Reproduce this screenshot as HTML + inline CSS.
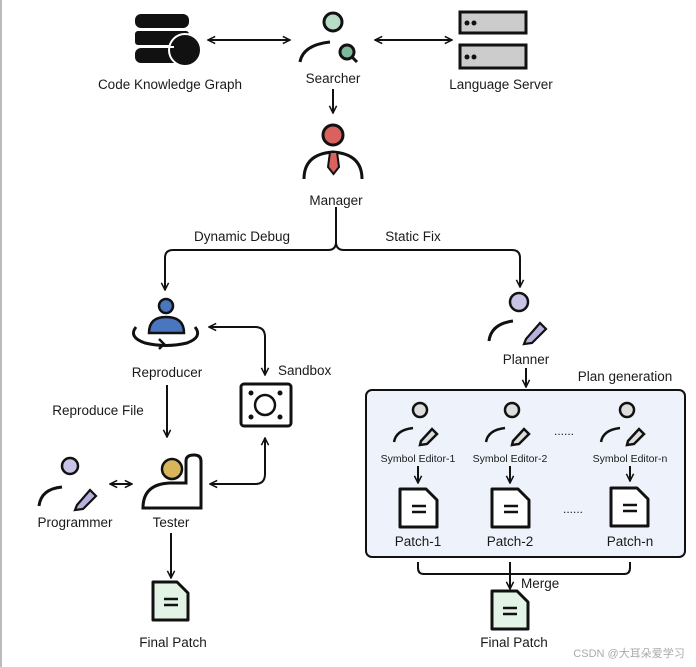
<!DOCTYPE html>
<html><head><meta charset="utf-8"><style>
html,body{margin:0;padding:0;background:#fff;}
svg{display:block;}
text{font-family:"Liberation Sans","Noto Sans CJK SC",sans-serif;fill:#1a1a1a;}
</style></head><body>
<svg width="696" height="667" viewBox="0 0 696 667" xmlns="http://www.w3.org/2000/svg">
<defs>
<marker id="a" viewBox="0 0 10 10" refX="9" refY="5" markerWidth="9" markerHeight="9" orient="auto-start-reverse" markerUnits="userSpaceOnUse">
<path d="M1,1 L9,5 L1,9" fill="none" stroke="#111" stroke-width="1.7"/></marker>
</defs>
<rect x="0" y="0" width="2" height="667" fill="#bbb"/>
<g stroke="#111" stroke-width="2" fill="none">
<line x1="208" y1="40" x2="290" y2="40" marker-start="url(#a)" marker-end="url(#a)"/>
<line x1="375" y1="40" x2="452" y2="40" marker-start="url(#a)" marker-end="url(#a)"/>
<line x1="333" y1="89" x2="333" y2="113" marker-end="url(#a)"/>
<path d="M336,207 V242 Q336,250 328,250 H173 Q165,250 165,258 V290" marker-end="url(#a)"/>
<path d="M336,242 Q336,250 344,250 H512 Q520,250 520,258 V287" marker-end="url(#a)"/>
<path d="M209,327 H255 Q265,327 265,337 V375" marker-start="url(#a)" marker-end="url(#a)"/>
<path d="M210,484 H255 Q265,484 265,474 V438" marker-start="url(#a)" marker-end="url(#a)"/>
<line x1="167" y1="385" x2="167" y2="437" marker-end="url(#a)"/>
<line x1="110" y1="484" x2="132" y2="484" marker-start="url(#a)" marker-end="url(#a)"/>
<line x1="171" y1="533" x2="171" y2="578" marker-end="url(#a)"/>
<line x1="526" y1="368" x2="526" y2="387" marker-end="url(#a)"/>
</g>
<!-- Database -->
<g fill="#111">
<rect x="135" y="14" width="54" height="14" rx="6"/>
<rect x="135" y="31" width="54" height="14" rx="3"/>
<rect x="135" y="48" width="54" height="15" rx="6"/>
<circle cx="185" cy="50" r="16" stroke="#fff" stroke-width="2"/>
</g>
<g fill="#fff"><rect x="140" y="29" width="38" height="2"/><rect x="140" y="46" width="34" height="2"/></g>
<!-- Searcher -->
<g stroke="#111" stroke-width="3" fill="none">
<circle cx="333" cy="22" r="9" fill="#b8dcc6"/>
<path d="M300,62 Q303,45 330,42"/>
<circle cx="347" cy="52" r="7" fill="#7db99a"/>
<line x1="352" y1="57" x2="357" y2="62"/>
</g>
<!-- Server -->
<g stroke="#111" stroke-width="3" fill="#ccc">
<rect x="460" y="12" width="66" height="21"/><rect x="460" y="45" width="66" height="23"/>
</g>
<g fill="#111"><circle cx="467" cy="23" r="2.5"/><circle cx="474" cy="23" r="2.5"/><circle cx="467" cy="57" r="2.5"/><circle cx="474" cy="57" r="2.5"/></g>
<!-- Manager -->
<g stroke="#111" stroke-width="3" fill="none">
<circle cx="333" cy="135" r="10" fill="#d9625e"/>
<path d="M304,179 Q304,154 333,152 Q362,154 362,179"/>
</g>
<path d="M330,152 L337,152 L339,167 L333.5,174 L328,167 Z" fill="#d9625e" stroke="#111" stroke-width="2"/>
<!-- Reproducer -->
<circle cx="166" cy="306" r="7" fill="#4a76c0" stroke="#111" stroke-width="2.5"/>
<path d="M149,333 Q149,317 166,317 Q184,317 184,333 Z" fill="#4a76c0" stroke="#111" stroke-width="2.5"/>
<path d="M136,327 Q128,337 145,343 Q166,348 187,343 Q203,337 195,327" fill="none" stroke="#111" stroke-width="3"/>
<path d="M159,339 L164,344 L159,349" fill="none" stroke="#111" stroke-width="2.5"/>
<!-- Sandbox -->
<rect x="241" y="384" width="50" height="42" rx="3" fill="#fff" stroke="#111" stroke-width="3"/>
<circle cx="265" cy="405" r="10" fill="none" stroke="#111" stroke-width="2.5"/>
<g fill="#111"><circle cx="251" cy="393" r="2.5"/><circle cx="280" cy="393" r="2.5"/><circle cx="251" cy="417" r="2.5"/><circle cx="280" cy="417" r="2.5"/></g>
<!-- Tester -->
<path d="M143,508 Q143,484 170,483 L186,483 L186,461 Q186,455 194,455 Q201,455 201,461 L201,508 Z" fill="#fff" stroke="#111" stroke-width="3"/>
<circle cx="172" cy="469" r="10" fill="#d8b45a" stroke="#111" stroke-width="2.5"/>
<!-- Programmer -->
<g stroke="#111" stroke-width="3">
<circle cx="70" cy="466" r="8" fill="#c9c3e6" stroke-width="2.5"/>
<path d="M39,506 Q41,489 62,487" fill="none"/>
<path d="M77,505 L90,490 L96,496 L83,509 L75,510 Z" fill="#b9b1dd" stroke-width="2.2"/>
</g>
<!-- Planner -->
<g stroke="#111" stroke-width="3">
<circle cx="519" cy="302" r="9" fill="#c9c3e6" stroke-width="2.5"/>
<path d="M489,341 Q491,324 513,321" fill="none"/>
<path d="M526,339 L540,323 L546,329 L532,343 L524,344 Z" fill="#b9b1dd" stroke-width="2.2"/>
</g>
<!-- plan box -->
<rect x="366" y="390" width="319" height="167" rx="6" fill="#eef3fb" stroke="#111" stroke-width="2"/>
<g stroke="#111" stroke-width="2.5">
<circle cx="420" cy="410" r="7" fill="#ddd"/><path d="M394,442 Q396,430 413,428" fill="none"/><path d="M421,441 L432,429 L437,434 L427,444 L420,445 Z" fill="#ddd"/>
<circle cx="512" cy="410" r="7" fill="#ddd"/><path d="M486,442 Q488,430 505,428" fill="none"/><path d="M513,441 L524,429 L529,434 L519,444 L512,445 Z" fill="#ddd"/>
<circle cx="627" cy="410" r="7" fill="#ddd"/><path d="M601,442 Q603,430 620,428" fill="none"/><path d="M628,441 L639,429 L644,434 L634,444 L627,445 Z" fill="#ddd"/>
</g>
<g stroke="#111" stroke-width="2" fill="none">
<line x1="418" y1="466" x2="418" y2="483" marker-end="url(#a)"/>
<line x1="510" y1="466" x2="510" y2="483" marker-end="url(#a)"/>
<line x1="630" y1="466" x2="630" y2="481" marker-end="url(#a)"/>
<path d="M418,562 V568 Q418,574 424,574 H624 Q630,574 630,568 V562"/>
<line x1="510" y1="562" x2="510" y2="589" marker-end="url(#a)"/>
</g>
<g stroke="#111" stroke-width="3" stroke-linejoin="round">
<path d="M400,489 H426 L437,500 V527 H400 Z" fill="#fff"/>
<path d="M492,489 H518 L529,500 V527 H492 Z" fill="#fff"/>
<path d="M611,488 H637 L648,499 V526 H611 Z" fill="#fff"/>
<path d="M153,582 H177 L188,593 V620 H153 Z" fill="#e3f4e6"/>
<path d="M492,591 H517 L528,602 V629 H492 Z" fill="#e3f4e6"/>
</g>
<g stroke="#111" stroke-width="2.5">
<line x1="412" y1="506" x2="426" y2="506"/><line x1="412" y1="512" x2="426" y2="512"/>
<line x1="504" y1="506" x2="518" y2="506"/><line x1="504" y1="512" x2="518" y2="512"/>
<line x1="623" y1="505" x2="637" y2="505"/><line x1="623" y1="511" x2="637" y2="511"/>
<line x1="164" y1="599" x2="178" y2="599"/><line x1="164" y1="605" x2="178" y2="605"/>
<line x1="503" y1="608" x2="517" y2="608"/><line x1="503" y1="614" x2="517" y2="614"/>
</g>
<g font-size="13.5">
<text x="170" y="89" text-anchor="middle">Code Knowledge Graph</text>
<text x="333" y="83" text-anchor="middle">Searcher</text>
<text x="501" y="89" text-anchor="middle">Language Server</text>
<text x="336" y="205" text-anchor="middle">Manager</text>
<text x="242" y="241" text-anchor="middle">Dynamic Debug</text>
<text x="413" y="241" text-anchor="middle">Static Fix</text>
<text x="167" y="377" text-anchor="middle">Reproducer</text>
<text x="278" y="375">Sandbox</text>
<text x="98" y="415" text-anchor="middle">Reproduce File</text>
<text x="75" y="527" text-anchor="middle">Programmer</text>
<text x="171" y="527" text-anchor="middle">Tester</text>
<text x="173" y="647" text-anchor="middle">Final Patch</text>
<text x="526" y="364" text-anchor="middle">Planner</text>
<text x="625" y="381" text-anchor="middle">Plan generation</text>
<text x="418" y="546" text-anchor="middle">Patch-1</text>
<text x="510" y="546" text-anchor="middle">Patch-2</text>
<text x="630" y="546" text-anchor="middle">Patch-n</text>
<text x="521" y="588">Merge</text>
<text x="514" y="647" text-anchor="middle">Final Patch</text>
</g>
<g font-size="10.5">
<text x="418" y="462" text-anchor="middle">Symbol Editor-1</text>
<text x="510" y="462" text-anchor="middle">Symbol Editor-2</text>
<text x="630" y="462" text-anchor="middle">Symbol Editor-n</text>
</g>
<g font-size="12">
<text x="564" y="435" text-anchor="middle">......</text>
<text x="573" y="513" text-anchor="middle">......</text>
</g>
<text x="629" y="657" font-size="11" text-anchor="middle" style="fill:#aaa">CSDN @大耳朵爱学习</text>
</svg>
</body></html>
